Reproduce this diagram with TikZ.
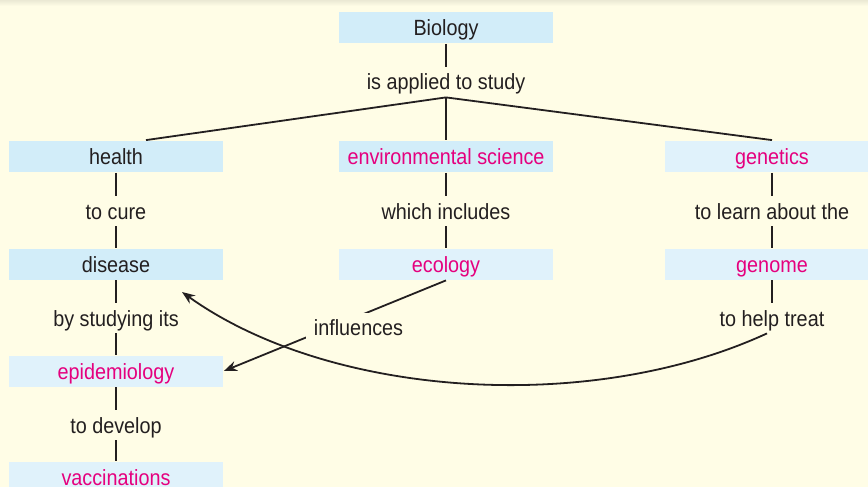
\documentclass[tikz,border=0pt]{standalone}
\usepackage{fontspec}
\setmainfont{Liberation Sans}[FakeStretch=0.9]
\usetikzlibrary{arrows.meta,positioning}

\definecolor{paper}{HTML}{FFFDE6}
\definecolor{boxblue}{HTML}{D2EDF9}
\definecolor{boxpale}{HTML}{E0F2FB}
\definecolor{keyword}{HTML}{E5007E}
\definecolor{ink}{HTML}{231F20}

\tikzset{
  concept/.style={fill=boxblue, text=ink, minimum width=214pt, minimum height=31pt,
    inner sep=0pt, text height=17pt, text depth=1pt},
  keyconcept/.style={concept, fill=boxpale, text=keyword},
  link/.style={text=ink, inner xsep=8pt, inner ysep=5.5pt, text height=17pt, text depth=1pt},
}

\begin{document}
\begin{tikzpicture}[x=1pt, y=-1pt, >={Stealth[length=13pt,width=10pt]},
    line width=1.8pt, color=ink, font=\fontsize{22}{26}\selectfont]
  % paper
  \path[use as bounding box, fill=paper] (0,0) rectangle (868,487);
  \clip (0,0) rectangle (868,487);
  \shade[top color=paper!92!black, bottom color=paper, draw=none] (0,0) rectangle (868,6);

  % concepts and linking phrases
  \node[concept] (biology) at (446,27.5) {Biology};
  \node[link] (applied) at (446,82) {is applied to study};
  \node[concept] (health) at (116,156.5) {health};
  \node[concept, text=keyword] (envsci) at (446,156.5) {environmental science};
  \node[keyconcept] (genetics) at (772,156.5) {genetics};
  \node[link] (cure) at (116,211) {to cure};
  \node[link] (includes) at (446,211) {which includes};
  \node[link] (learn) at (772,211) {to learn about the};
  \node[concept] (disease) at (116,264) {disease};
  \node[keyconcept] (ecology) at (446,264) {ecology};
  \node[keyconcept] (genome) at (772,264) {genome};
  \node[link] (studying) at (116,318) {by studying its};
  \node[link] (treat) at (772,318) {to help treat};
  \node[keyconcept] (epidem) at (116,371) {epidemiology};
  \node[link] (develop) at (116,425) {to develop};
  \node[keyconcept] (vaccines) at (116,477) {vaccinations};
  \coordinate (disease tip) at (182,292);

  % links
  \draw (biology) -- (applied);
  \draw (applied.south) -- ([xshift=30pt]health.north);
  \draw (applied.south) -- (envsci.north);
  \draw (applied.south) -- (genetics.north);
  \draw (health) -- (cure);
  \draw (cure) -- (disease);
  \draw (envsci) -- (includes);
  \draw (includes) -- (ecology);
  \draw (genetics) -- (learn);
  \draw (learn) -- (genome);
  \draw (disease) -- (studying);
  \draw (studying) -- (epidem);
  \draw (epidem) -- (develop);
  \draw (develop) -- (vaccines);
  \draw (genome) -- (treat);
  \draw[->] ([xshift=-5pt]treat.south) .. controls (590,415) and (330,398) .. (disease tip);
  \draw[->] (ecology.south) -- node[link, fill=paper, pos=0.52, xshift=28pt] (influences) {influences} (epidem.east);
\end{tikzpicture}
\end{document}
